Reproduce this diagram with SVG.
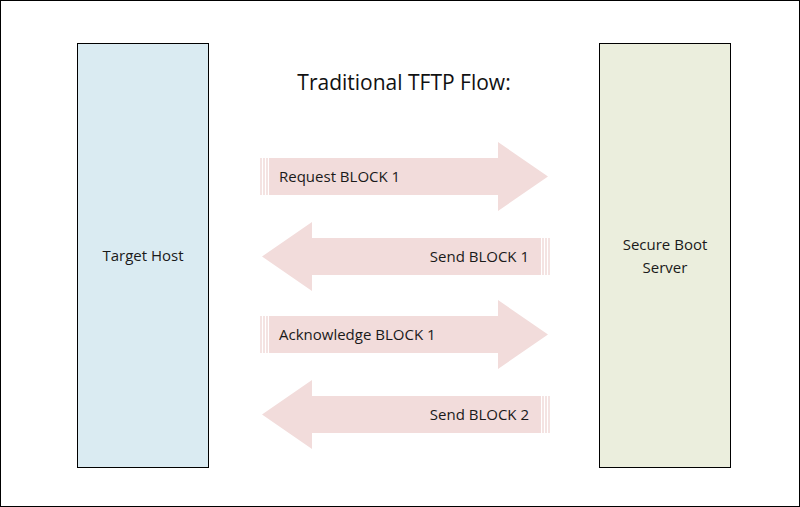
<svg xmlns="http://www.w3.org/2000/svg" width="800" height="507" viewBox="0 0 800 507">
<defs>
<style>
.t{font-family:"Open Sans","Liberation Sans",sans-serif;font-size:15px;fill:#1a1a1a}
.a{fill:#f2dcdb}
.s{stroke:#f2dcdb;stroke-width:1.6}
</style>
<g id="ar">
<path class="a" d="M269 158H498V142L548 176.5L498 211V195H269Z"/>
<path class="s" d="M261 158V195M264 158V195M267 158V195"/>
</g>
</defs>
<rect x="0.5" y="0.5" width="799" height="506" fill="#fff" stroke="#000"/>
<g id="target"><rect x="77.5" y="43.5" width="131" height="424" fill="#daebf2" stroke="#000"/><text class="t" x="143" y="261" text-anchor="middle">Target Host</text></g>
<g id="server"><rect x="599.5" y="43.5" width="131" height="424" fill="#ebeedd" stroke="#000"/><text class="t" x="665" y="250" text-anchor="middle">Secure Boot</text><text class="t" x="665" y="273" text-anchor="middle">Server</text></g>
<text x="404" y="90" text-anchor="middle" style="font-family:'Open Sans','Liberation Sans',sans-serif;font-size:21px;fill:#111">Traditional TFTP Flow:</text>
<g id="connectors">
<use href="#ar"/>
<use href="#ar" transform="translate(810,80) scale(-1,1)"/>
<use href="#ar" transform="translate(0,158)"/>
<use href="#ar" transform="translate(810,238) scale(-1,1)"/>
<text class="t" x="279" y="182">Request BLOCK 1</text>
<text class="t" x="529" y="262" text-anchor="end">Send BLOCK 1</text>
<text class="t" x="279" y="340">Acknowledge BLOCK 1</text>
<text class="t" x="529" y="420" text-anchor="end">Send BLOCK 2</text>
</g>
</svg>
